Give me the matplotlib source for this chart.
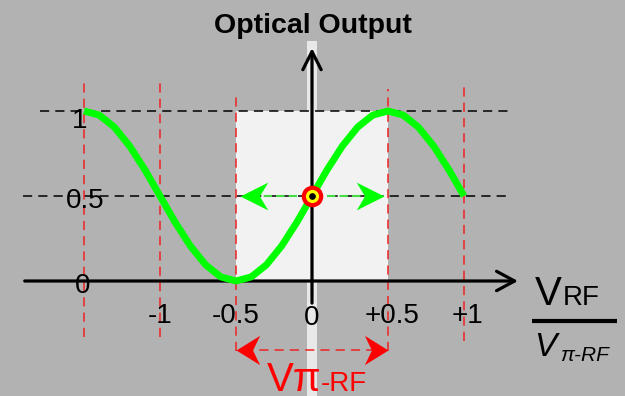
import numpy as np
import matplotlib
matplotlib.use('Agg')
import matplotlib.pyplot as plt
from matplotlib.path import Path

plt.rcParams['font.family'] = ['Liberation Sans', 'DejaVu Sans']

# Transfer curve (normalised RF voltage vs optical output)
v_norm = [-1.5, -1.4, -1.3, -1.2, -1.1, -1.0, -0.9, -0.8, -0.7, -0.6, -0.5,
          -0.4, -0.3, -0.2, -0.1, 0.0, 0.1, 0.2, 0.3, 0.4, 0.5,
          0.6, 0.7, 0.8, 0.9, 1.0]
output = [1.0, 0.976, 0.905, 0.794, 0.655, 0.5, 0.345, 0.206, 0.095, 0.024, 0.0,
          0.024, 0.095, 0.206, 0.345, 0.5, 0.655, 0.794, 0.905, 0.976, 1.0,
          0.976, 0.905, 0.794, 0.655, 0.5]

x_ticks = [-1, -0.5, 0, 0.5, 1]
x_tick_labels = ['-1', '-0.5', '0', '+0.5', '+1']
y_ticks = [1, 0.5, 0]
y_tick_labels = ['1', '0.5', '0']

# red guide lines: x position, top, bottom
guide_x = [-1.5, -1.0, -0.5, 0.5, 1.0]
guide_top = [1.17, 1.17, 1.09, 1.13, 1.14]
guide_bot = [-0.33, -0.33, -0.41, -0.41, -0.35]

bias_point = (0.0, 0.5)
swing_tips = [-0.474, 0.474]
vpi_span = [-0.5, 0.5]


def stealth(direction, half_w=0.5):
    # notched arrow head, tip at the origin
    d = direction
    verts = [(0, 0), (-d, half_w), (-0.7 * d, 0), (-d, -half_w), (0, 0)]
    codes = [Path.MOVETO, Path.LINETO, Path.LINETO, Path.LINETO, Path.CLOSEPOLY]
    return Path(verts, codes)


bg = '#b2b2b2'
fig = plt.figure(figsize=(6.25, 3.96), dpi=100, facecolor=bg)
ax = fig.add_axes([0, 0, 1, 1])
ax.set_facecolor(bg)
ax.set_xlim(-312 / 152, 313 / 152)
ax.set_ylim(-115 / 170, 281 / 170)
ax.axis('off')

# light strip behind y axis and the shaded half-period box
ax.fill_between([-0.03, 0.03], -0.7, 1.41, color='#e8e8e8', lw=0, zorder=0)
ax.fill_between([-0.5, 0.5], 0, 1, color='#f2f2f2', lw=0, zorder=1)

# horizontal black dashed levels
ax.plot([-1.79, 1.30], [1, 1], color='k', lw=1.1, ls=(0, (6, 4)), zorder=2)
ax.plot([-1.90, 1.30], [0.5, 0.5], color='k', lw=1.1, ls=(0, (6, 4)), zorder=2)

# red vertical dashed guides
for gx, gt, gb in zip(guide_x, guide_top, guide_bot):
    ax.plot([gx, gx], [gb, gt], color='#ee2222', lw=1.1, ls=(0, (6, 4)), zorder=2)

# axes with arrows
ax.annotate('', xy=(1.355, 0), xytext=(-1.89, 0),
            arrowprops=dict(arrowstyle='->,head_length=0.65,head_width=0.35',
                            lw=2.3, color='k', mutation_scale=20,
                            shrinkA=0, shrinkB=0), zorder=3)
ax.annotate('', xy=(0, 1.37), xytext=(0, -0.13),
            arrowprops=dict(arrowstyle='->,head_length=0.65,head_width=0.33',
                            lw=2.3, color='k', mutation_scale=20,
                            shrinkA=0, shrinkB=0), zorder=3)

# transfer curve
ax.plot(v_norm, output, color='#00ff00', lw=5, solid_capstyle='butt', zorder=4)

# green swing arrows around the bias point
for tip in swing_tips:
    ax.plot([np.sign(tip) * 0.1, tip * 0.85], [0.5, 0.5], color='#44dd44', lw=1.5,
            ls=(0, (4, 2)), zorder=5)
    ax.plot(tip, 0.5, marker=stealth(np.sign(tip)), ms=40, color='#00ff00',
            mew=0, zorder=5)

# bias point marker
ax.plot(*bias_point, marker='o', ms=12.5, mfc='yellow', mec='red', mew=3, zorder=6)
ax.plot(*bias_point, marker='o', ms=3.8, color='k', zorder=7)

# red V_pi span arrow
ax.plot([vpi_span[0] + 0.05, vpi_span[1] - 0.05], [-0.406, -0.406], color='#ee2222',
        lw=1.1, ls=(0, (6, 4)), zorder=5)
for tip in vpi_span:
    ax.plot(tip, -0.406, marker=stealth(np.sign(tip), 0.62), ms=34, color='red',
            mew=0, zorder=5)

# tick labels
for xv, lab in zip(x_ticks, x_tick_labels):
    yb = -0.26 if lab == '0' else -0.245
    ax.text(xv + (0.025 if lab.startswith('+') else 0), yb, lab, fontsize=20,
            ha='center', va='baseline', zorder=8)
y_lab_x = [-1.53, -1.49, -1.51]
y_lab_base = [0.9, 0.43, -0.07]
for xl, yl, lab in zip(y_lab_x, y_lab_base, y_tick_labels):
    ax.text(xl, yl, lab, fontsize=20, ha='center', va='baseline', zorder=8)

# title
ax.text(0.005, 1.46, 'Optical Output', fontsize=20.5, fontweight='bold',
        ha='center', va='baseline', zorder=8)

# V_pi-RF label
ax.text(0.059, -0.645, 'V\u03c0', fontsize=29, color='red', ha='right',
        va='baseline', zorder=8)
ax.text(0.059, -0.645, '-RF', fontsize=20, color='red', ha='left',
        va='baseline', zorder=8)

# normalised x label V_RF / V_pi-RF
ax.text(1.465, -0.141, 'V', fontsize=29, ha='left', va='baseline', zorder=8)
ax.text(1.652, -0.141, 'RF', fontsize=20, ha='left', va='baseline', zorder=8)
ax.plot([1.447, 2.007], [-0.235, -0.235], color='k', lw=3, solid_capstyle='butt', zorder=8)
ax.text(1.46, -0.441, 'V', fontsize=24, style='italic', ha='left', va='baseline', zorder=8)
ax.text(1.63, -0.472, '\u03c0-RF', fontsize=15, style='italic', ha='left',
        va='baseline', zorder=8)

fig.savefig('out.png', dpi=100, facecolor=bg)
